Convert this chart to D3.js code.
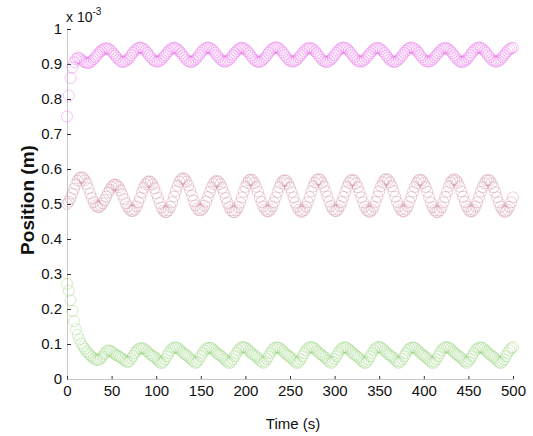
<!DOCTYPE html>
<html><head><meta charset="utf-8">
<script src="https://cdn.jsdelivr.net/npm/d3@7"></script>
<style>
html,body{margin:0;padding:0;background:#fff;}
svg{display:block;font-family:"Liberation Sans",Arial,sans-serif;}
</style></head>
<body><svg id="c" width="533" height="436"></svg>
<script>
// sample times (s), one sample every 2 s
const times = d3.range(0, 501, 2);
const xTicks = [0,50,100,150,200,250,300,350,400,450,500];
const yTicks = [0,0.1,0.2,0.3,0.4,0.5,0.6,0.7,0.8,0.9,1];
const yTickLabels = ["0","0.1","0.2","0.3","0.4","0.5","0.6","0.7","0.8","0.9","1"];

// Position values in units of 1e-3 m
const seriesMagenta = [
0.750,0.810,0.860,0.890,0.905,0.914,0.918,0.917,0.913,0.908,0.905,0.903,0.903,0.905,0.909,0.914,0.920,0.926,0.932,0.937,0.941,0.944,
0.945,0.944,0.941,0.936,0.930,0.924,0.918,0.912,0.908,0.906,0.906,0.909,0.913,0.918,0.925,0.932,0.938,0.943,0.946,
0.947,0.946,0.943,0.938,0.932,0.925,0.919,0.913,0.909,0.907,0.907,0.909,0.913,0.919,0.925,0.931,0.937,0.942,0.945,
0.946,0.945,0.942,0.937,0.931,0.924,0.918,0.912,0.908,0.906,0.906,0.909,0.913,0.918,0.925,0.932,0.938,0.943,0.946,
0.947,0.946,0.943,0.938,0.932,0.925,0.919,0.913,0.909,0.907,0.907,0.909,0.913,0.919,0.925,0.931,0.937,0.942,0.945,
0.946,0.945,0.942,0.937,0.931,0.924,0.918,0.912,0.908,0.906,0.906,0.909,0.913,0.918,0.925,0.932,0.938,0.943,0.946,
0.948,0.947,0.944,0.939,0.933,0.926,0.919,0.913,0.909,0.907,0.907,0.909,0.913,0.919,0.925,0.931,0.937,0.942,0.945,
0.946,0.945,0.942,0.937,0.931,0.924,0.918,0.912,0.908,0.906,0.906,0.909,0.913,0.918,0.925,0.932,0.938,0.943,0.946,
0.947,0.946,0.943,0.938,0.932,0.925,0.919,0.913,0.909,0.907,0.907,0.909,0.913,0.919,0.925,0.931,0.937,0.942,0.945,
0.946,0.945,0.942,0.937,0.931,0.924,0.918,0.912,0.908,0.906,0.906,0.909,0.913,0.918,0.925,0.932,0.938,0.943,0.946,
0.947,0.946,0.943,0.938,0.932,0.925,0.919,0.913,0.909,0.907,0.907,0.909,0.913,0.919,0.925,0.931,0.937,0.942,0.945,
0.946,0.945,0.942,0.937,0.931,0.924,0.918,0.912,0.908,0.906,0.906,0.909,0.913,0.918,0.925,0.932,0.938,0.943,0.946,
0.947,0.946,0.943,0.938,0.932,0.925,0.919,0.913,0.909,0.907,0.907,0.909,0.913,0.919,0.925,0.931,0.937,0.942,0.945,
0.946
];
const seriesMaroon = [
0.500,0.507,0.517,0.530,0.543,0.556,0.567,0.574,
0.577,0.575,0.568,0.558,0.545,0.530,0.517,0.505,0.496,0.492,0.491,0.495,0.502,0.511,0.521,0.532,0.541,0.549,0.554,
0.556,0.554,0.548,0.539,0.527,0.514,0.502,0.492,0.484,0.480,0.480,0.484,0.493,0.505,0.518,0.533,0.546,0.556,0.563,
0.565,0.563,0.556,0.545,0.531,0.517,0.503,0.490,0.481,0.477,0.477,0.482,0.492,0.505,0.521,0.537,0.552,0.564,0.571,
0.574,0.571,0.564,0.553,0.539,0.524,0.509,0.496,0.487,0.482,0.482,0.486,0.495,0.507,0.520,0.534,0.547,0.557,0.564,
0.566,0.564,0.557,0.546,0.532,0.517,0.503,0.491,0.482,0.477,0.477,0.482,0.491,0.504,0.519,0.535,0.549,0.560,0.568,
0.570,0.568,0.560,0.549,0.535,0.520,0.506,0.493,0.484,0.479,0.479,0.484,0.493,0.505,0.519,0.534,0.548,0.559,0.566,
0.568,0.566,0.558,0.547,0.534,0.519,0.504,0.492,0.483,0.478,0.478,0.483,0.492,0.505,0.520,0.536,0.550,0.561,0.569,
0.571,0.569,0.561,0.550,0.536,0.521,0.507,0.494,0.485,0.480,0.480,0.484,0.494,0.506,0.520,0.535,0.549,0.560,0.567,
0.569,0.567,0.559,0.548,0.534,0.519,0.505,0.492,0.483,0.478,0.478,0.483,0.492,0.506,0.521,0.536,0.551,0.562,0.569,
0.572,0.569,0.562,0.551,0.537,0.521,0.506,0.493,0.484,0.479,0.479,0.484,0.493,0.506,0.520,0.535,0.549,0.560,0.568,
0.570,0.567,0.560,0.549,0.535,0.519,0.504,0.491,0.482,0.477,0.477,0.482,0.491,0.505,0.520,0.535,0.550,0.561,0.568,
0.571,0.568,0.561,0.550,0.536,0.521,0.506,0.493,0.484,0.479,0.479,0.484,0.493,0.505,0.520,0.535,0.548,0.559,0.567,
0.569,0.567,0.559,0.548,0.534,0.519,0.505,0.492,0.483,0.478,0.478,0.483,0.492,0.505,0.519
];
const seriesGreen = [
0.272,0.252,0.225,0.195,0.165,0.142,0.126,0.113,0.101,0.093,0.086,0.079,0.073,0.068,0.063,0.059,0.056,0.054,0.055,0.059,0.065,0.072,0.078,
0.082,0.081,0.078,0.075,0.070,0.067,0.065,0.062,0.058,0.054,0.051,0.048,0.051,0.058,0.066,0.074,0.080,0.085,0.088,
0.088,0.087,0.083,0.079,0.073,0.069,0.066,0.063,0.058,0.053,0.048,0.045,0.049,0.056,0.065,0.074,0.081,0.087,0.090,
0.090,0.089,0.085,0.080,0.075,0.071,0.068,0.064,0.059,0.054,0.050,0.046,0.049,0.056,0.065,0.074,0.081,0.086,0.089,
0.089,0.088,0.084,0.079,0.074,0.070,0.067,0.063,0.058,0.053,0.049,0.045,0.049,0.056,0.065,0.074,0.082,0.088,0.091,
0.091,0.090,0.086,0.081,0.076,0.071,0.068,0.064,0.060,0.054,0.050,0.046,0.050,0.057,0.065,0.074,0.082,0.087,0.090,
0.090,0.089,0.085,0.080,0.075,0.070,0.067,0.063,0.059,0.053,0.049,0.045,0.049,0.056,0.065,0.074,0.082,0.088,0.091,
0.091,0.090,0.086,0.081,0.076,0.071,0.068,0.064,0.060,0.054,0.050,0.046,0.050,0.057,0.065,0.074,0.082,0.087,0.090,
0.090,0.089,0.085,0.080,0.075,0.070,0.067,0.063,0.059,0.053,0.049,0.045,0.049,0.056,0.065,0.074,0.082,0.088,0.091,
0.091,0.090,0.086,0.081,0.076,0.071,0.068,0.064,0.060,0.054,0.050,0.046,0.050,0.057,0.065,0.074,0.082,0.087,0.090,
0.090,0.089,0.085,0.080,0.075,0.070,0.067,0.063,0.059,0.053,0.049,0.045,0.049,0.056,0.065,0.074,0.082,0.088,0.091,
0.091,0.090,0.086,0.081,0.076,0.071,0.068,0.064,0.060,0.054,0.050,0.046,0.050,0.057,0.065,0.074,0.082,0.087,0.090,
0.090,0.089,0.085,0.080,0.075,0.070,0.067,0.063,0.059,0.053,0.049,0.045,0.049,0.056,0.065,0.074,0.082,0.088,0.091
];

const seriesList = [
  {name:"magenta", values: seriesMagenta, color:"#e864e8"},
  {name:"maroon",  values: seriesMaroon,  color:"#c7809a"},
  {name:"green",   values: seriesGreen,   color:"#8fd070"}
];

const svg = d3.select("#c");
const x = d3.scaleLinear().domain([0,500]).range([67,513]);
const y = d3.scaleLinear().domain([0,1]).range([379,29]);

// axes
const gy = svg.append("g").attr("transform","translate(67,0)")
  .call(d3.axisLeft(y).tickValues(yTicks).tickSizeInner(-4).tickSizeOuter(0).tickPadding(5)
        .tickFormat((d,i)=>yTickLabels[i]));
const gx = svg.append("g").attr("transform","translate(0,379)")
  .call(d3.axisBottom(x).tickValues(xTicks).tickSizeInner(-3).tickSizeOuter(0).tickPadding(6));
[gx,gy].forEach(g=>{
  g.select(".domain").attr("stroke","#c8c8c8").attr("stroke-width",1);
  g.selectAll(".tick line").attr("stroke","#333");
  g.selectAll(".tick text").attr("fill","#111").style("font-size","15px")
   .style("font-family",'"Liberation Sans",Arial,sans-serif');
});

// markers
seriesList.forEach(s=>{
  const pts = d3.zip(times, s.values);
  svg.append("g").selectAll("circle").data(pts).join("circle")
    .attr("cx",d=>x(d[0])).attr("cy",d=>y(d[1])).attr("r",5.5)
    .attr("fill","none").attr("stroke",s.color).attr("stroke-width",0.45).attr("stroke-opacity",0.85);
});

// exponent label
const ex = svg.append("text").attr("x",66).attr("y",22).attr("fill","#111").style("font-size","14px");
ex.append("tspan").text("x 10");
ex.append("tspan").attr("dy",-7).style("font-size","10px").text("-3");

// axis titles
svg.append("text").attr("x",293).attr("y",429).attr("text-anchor","middle")
  .attr("fill","#111").style("font-size","15px").text("Time (s)");
svg.append("text").attr("transform","translate(34,200) rotate(-90)").attr("text-anchor","middle")
  .attr("fill","#111").style("font-size","19px").style("font-weight","bold").text("Position (m)");
</script>
</body></html>
